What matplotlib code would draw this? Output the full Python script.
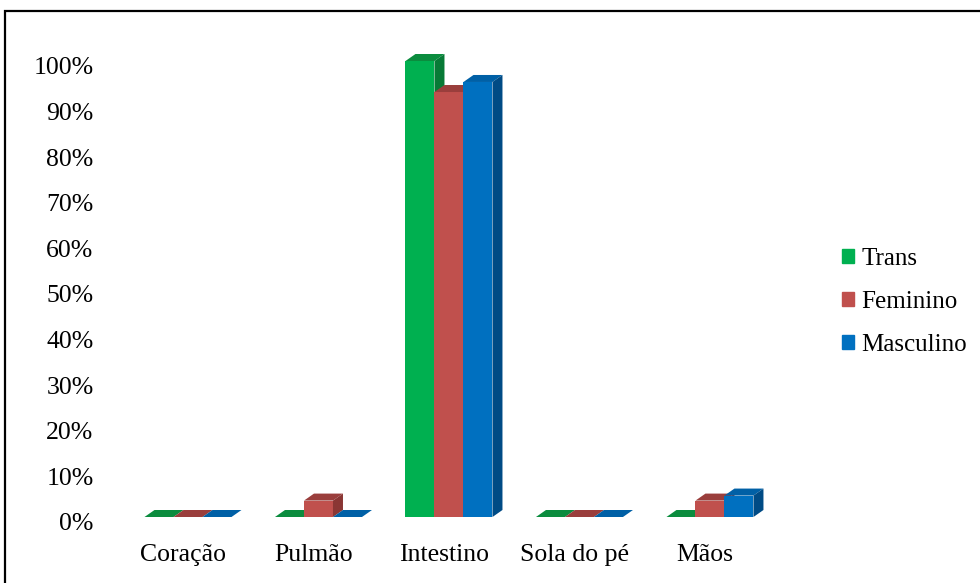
import matplotlib.pyplot as plt
from matplotlib.patches import Polygon, Patch, Rectangle
import matplotlib.transforms as mtransforms

categories = ['Coração', 'Pulmão', 'Intestino', 'Sola do pé', 'Mãos']
series = ['Trans', 'Feminino', 'Masculino']
trans = [0, 0, 100, 0, 0]
feminino = [0, 3.6, 93.2, 0, 3.6]
masculino = [0, 0, 95.4, 0, 4.7]
yticks = [0, 10, 20, 30, 40, 50, 60, 70, 80, 90, 100]
ytick_labels = [f'{t}%' for t in yticks]

# front, top, side colours per series
colors = [('#00B050', '#0B8C3E', '#077A36'),
          ('#C0504D', '#9A3E3C', '#8A3634'),
          ('#0070C0', '#0060A6', '#004B85')]

plt.rcParams['font.family'] = ['Liberation Serif', 'DejaVu Serif']

fig = plt.figure(figsize=(9.8, 5.83), dpi=100)
ax = fig.add_axes([120 / 980, 66 / 583, 680 / 980, 501.6 / 583])
ax.set_xlim(-0.521, 4.69)
ax.set_ylim(0, 110)

w = 29 / 130.5
dx = 10 / 130.5
dy = 7 / 4.56

values = [trans, feminino, masculino]
for j, vals in enumerate(values):
    front, top, side = colors[j]
    xs = [i + (j - 1) * w for i in range(len(categories))]
    z = 2 + j
    ax.bar(xs, vals, width=w, color=front, linewidth=0, zorder=z)
    for x, v in zip(xs, vals):
        ax.add_patch(Polygon([(x - w / 2, v), (x + w / 2, v),
                              (x + w / 2 + dx, v + dy), (x - w / 2 + dx, v + dy)],
                             closed=True, color=top, lw=0, zorder=z, clip_on=False))
        if v > 0:
            ax.add_patch(Polygon([(x + w / 2, 0), (x + w / 2 + dx, dy),
                                  (x + w / 2 + dx, v + dy), (x + w / 2, v)],
                                 closed=True, color=side, lw=0, zorder=z, clip_on=False))

ax.set_xticks(range(len(categories)))
ax.set_xticklabels(categories, fontsize=18.5)
ax.set_yticks(yticks)
ax.set_yticklabels(ytick_labels, fontsize=18.5)
ax.tick_params(axis='x', length=0, pad=19.5)
ax.tick_params(axis='y', length=0, pad=19)
offset = mtransforms.ScaledTranslation(0, -5 / 100, fig.dpi_scale_trans)
for lab in ax.get_yticklabels():
    lab.set_transform(lab.get_transform() + offset)
xoff = mtransforms.ScaledTranslation(-5 / 100, 0, fig.dpi_scale_trans)
for lab in ax.get_xticklabels():
    lab.set_transform(lab.get_transform() + xoff)
for s in ax.spines.values():
    s.set_visible(False)

handles = [Patch(color=colors[j][0], label=series[j]) for j in range(3)]
fig.legend(handles=handles, loc='center left', bbox_to_anchor=(819 / 980, 281 / 583),
           frameon=False, fontsize=18, handlelength=0.48, handleheight=0.48,
           handletextpad=0.32, labelspacing=0.84)

fig.add_artist(Rectangle((5 / 980, -0.05), 1.2, (583 - 11) / 583 + 0.05,
                         transform=fig.transFigure, fill=False, ec='black', lw=1.6))

fig.savefig('out.png', dpi=100)
